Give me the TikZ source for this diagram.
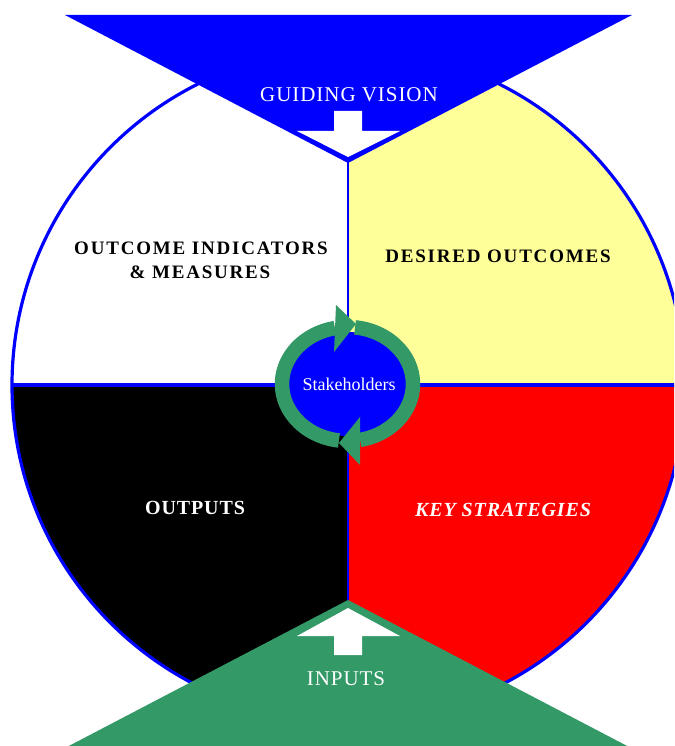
\documentclass[tikz,border=0pt]{standalone}
\usepackage{fontspec}
\setmainfont{Liberation Serif}
\newfontfamily\lsfont[LetterSpace=4.5]{Liberation Serif}
\newfontfamily\wsfont[LetterSpace=9.5]{Liberation Serif}
\definecolor{vblue}{RGB}{0,0,255}
\definecolor{vyellow}{RGB}{255,255,153}
\definecolor{vred}{RGB}{255,0,0}
\definecolor{vgreen}{RGB}{51,153,102}
\tikzset{
  whitelabel/.style={text=white, inner sep=0pt, font=\lsfont\fontsize{21}{21}\selectfont},
  blacklabel/.style={text=black, inner sep=0pt, font=\wsfont\bfseries\fontsize{19}{19}\selectfont},
  ring/.style={draw=vgreen, line width=14.5pt},
}
\begin{document}
\begin{tikzpicture}[x=1pt,y=-1pt]
\useasboundingbox (0,0) rectangle (674,746);
\fill[white] (0,0) rectangle (674,746);
\clip (0,0) rectangle (674,746);
% quadrants
\begin{scope}
  \clip (348.5,385) circle[radius=336.5];
  \fill[white] (0,0) rectangle (348,385);
  \fill[vyellow] (348,0) rectangle (700,385);
  \fill[black] (0,385) rectangle (348,760);
  \fill[vred] (348,385) rectangle (700,760);
  \draw[vblue, line width=2.5pt] (348,0) -- (348,760);
  \draw[vblue, line width=4pt] (0,385) -- (700,385);
\end{scope}
\draw[vblue, line width=3.2pt] (348.5,385) circle[radius=336.5];
% guiding vision triangle
\fill[vblue] (65,15) -- (632,15) -- (348,163) -- cycle;
\fill[white] (334,111) -- (362,111) -- (362,131) -- (400,131) -- (348,157) -- (297,131) -- (334,131) -- cycle;
% inputs triangle
\fill[vgreen] (348,600) -- (654,760) -- (42,760) -- cycle;
\fill[white] (348,608) -- (400,636) -- (362,636) -- (362,655) -- (334,655) -- (334,636) -- (297,636) -- cycle;
% stakeholders
\fill[vblue] (347.5,384) ellipse[x radius=60, y radius=52];
\draw[ring] (347.5,384) ++(-83.4:65.5 and 57) arc[start angle=-83.4, end angle=79, x radius=65.5, y radius=57];
\draw[ring] (347.5,384) ++(97.5:65.5 and 57) arc[start angle=97.5, end angle=259, x radius=65.5, y radius=57];
\fill[vgreen] (336,305) -- (356,324) -- (334,352) -- cycle;
\fill[vgreen] (360,417) -- (339,443) -- (360,465) -- cycle;
% labels
\node[whitelabel] (gv) at (349,95) {GUIDING VISION};
\node[whitelabel] (inp) at (346,679) {INPUTS};
\node[text=white, inner sep=0pt, font=\fontsize{18}{18}\selectfont] (st) at (349,384) {Stakeholders};
\node[blacklabel] (oi1) at (201,248) {OUTCOME INDICATORS};
\node[blacklabel] (oi2) at (200,272) {\& MEASURES};
\node[blacklabel] (do) at (498,256) {DESIRED OUTCOMES};
\node[whitelabel, font=\lsfont\bfseries\fontsize{20}{20}\selectfont] (out) at (195,508) {OUTPUTS};
\node[whitelabel, font=\lsfont\bfseries\itshape\fontsize{20}{20}\selectfont] (ks) at (503,510) {KEY STRATEGIES};
\end{tikzpicture}
\end{document}
